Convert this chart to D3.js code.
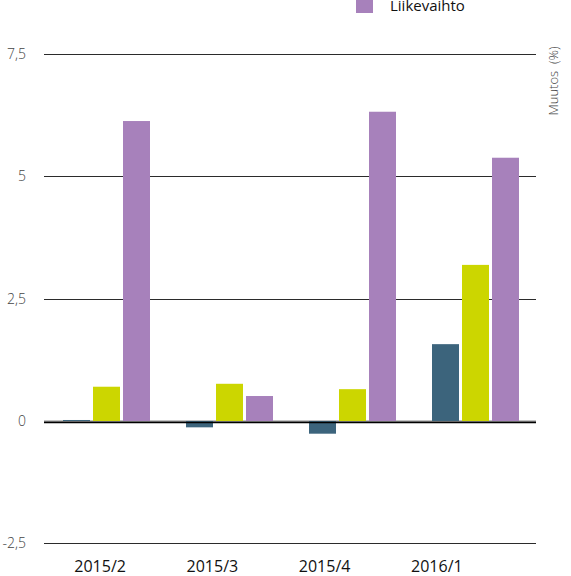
<!DOCTYPE html>
<html>
<head>
<meta charset="utf-8">
<script src="https://cdn.jsdelivr.net/npm/d3@7"></script>
<style>
  html, body { margin: 0; padding: 0; background: #fff; }
  svg { display: block; font-family: "Open Sans", "Noto Sans", sans-serif; }
</style>
</head>
<body>
<svg id="chart" width="571" height="576"></svg>
<script>
// Quarterly change figures (%)
const categories = ["2015/2", "2015/3", "2015/4", "2016/1"];
const seriesNames = ["Henkilöstö", "Palkkasumma", "Liikevaihto"];
const seriesColors = ["#3c647c", "#ccd600", "#a781bb"];
const henkilosto = [0.02, -0.13, -0.26, 1.57];
const palkkasumma = [0.70, 0.76, 0.65, 3.19];
const liikevaihto = [6.13, 0.51, 6.32, 5.38];
const yTicks = [-2.5, 0, 2.5, 5, 7.5];
const yTickLabels = ["-2,5", "0", "2,5", "5", "7,5"];
const axisTitle = "Muutos  (%)";

const seriesValues = [henkilosto, palkkasumma, liikevaihto];
const rows = categories.map((c, i) => ({
  cat: c,
  vals: seriesNames.map((s, j) => ({ series: s, idx: j, v: seriesValues[j][i] }))
}));

const svg = d3.select("#chart");
const left = 44, right = 536;

const y = d3.scaleLinear().domain([-2.5, 7.5]).range([543.3, 54]);
const x0 = d3.scaleBand().domain(categories).range([left, right]).padding(0);
const groupW = 87;
const x1 = d3.scaleBand().domain(seriesNames).range([0, groupW]).paddingInner(0.1);
const xLabel = d3.scaleBand().domain(categories).range([left, 493]);

// gridlines
svg.append("g").selectAll("line").data(yTicks).join("line")
  .attr("x1", left).attr("x2", right)
  .attr("y1", d => Math.round(y(d)) + 0.5).attr("y2", d => Math.round(y(d)) + 0.5)
  .attr("stroke", d => d === 0 ? "#8a8a8a" : "#2b2b2b")
  .attr("stroke-width", d => d === 0 ? 2 : 1.2);

// left tick labels
svg.append("g").selectAll("text").data(yTicks).join("text")
  .attr("x", 26).attr("y", d => y(d) + 5)
  .attr("text-anchor", "end")
  .attr("font-size", 14).attr("font-weight", 300).attr("fill", "#444")
  .text((d, i) => yTickLabels[i]);

// bars
const groups = svg.append("g").selectAll("g").data(rows).join("g")
  .attr("transform", d => `translate(${x0(d.cat) + (x0.bandwidth() - groupW) / 2 + 1},0)`);
groups.selectAll("rect").data(d => d.vals).join("rect")
  .attr("x", d => x1(d.series))
  .attr("width", x1.bandwidth())
  .attr("y", d => Math.min(y(d.v), y(0)))
  .attr("height", d => Math.abs(y(d.v) - y(0)))
  .attr("fill", d => seriesColors[d.idx]);

// zero axis line
svg.append("line")
  .attr("x1", left).attr("x2", right)
  .attr("y1", Math.round(y(0)) + 1.5).attr("y2", Math.round(y(0)) + 1.5)
  .attr("stroke", "#000").attr("stroke-width", 1.5);

// category labels
svg.append("g").selectAll("text").data(categories).join("text")
  .attr("x", d => xLabel(d) + xLabel.bandwidth() / 2)
  .attr("y", 572)
  .attr("text-anchor", "middle")
  .attr("font-size", 16).attr("fill", "#111")
  .text(d => d);

// axis title on the right
svg.append("text")
  .attr("transform", "translate(558,81) rotate(-90)")
  .attr("text-anchor", "middle")
  .attr("font-size", 13).attr("font-weight", 300).attr("fill", "#444")
  .attr("xml:space", "preserve")
  .style("white-space", "pre")
  .text(axisTitle);

// legend (stacked vertically, top-right)
const legend = svg.append("g").selectAll("g").data(seriesNames).join("g")
  .attr("transform", (d, i) => `translate(356,${-46 + i * 25})`);
legend.append("rect").attr("x", 0).attr("y", -8).attr("width", 17).attr("height", 17)
  .attr("fill", (d, i) => seriesColors[i]);
legend.append("text").attr("x", 34).attr("y", 7)
  .attr("font-size", 15).attr("fill", "#111").text(d => d);
</script>
</body>
</html>
